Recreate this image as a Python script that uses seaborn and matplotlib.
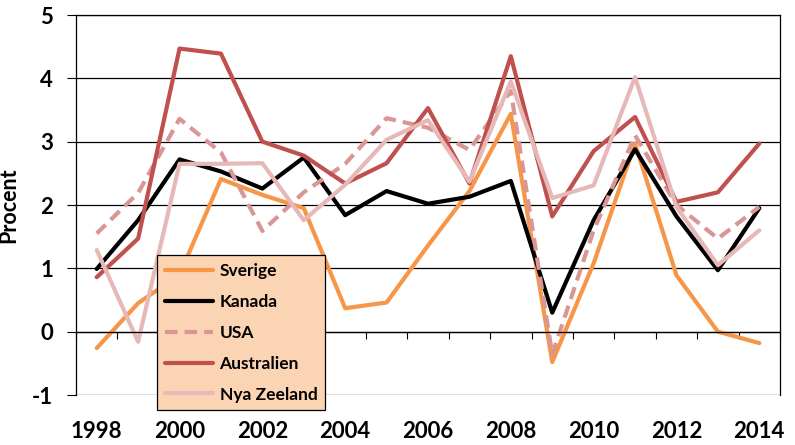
import matplotlib
matplotlib.use("Agg")
import matplotlib.pyplot as plt
import seaborn as sns
import numpy as np
import pandas as pd
from matplotlib.ticker import FixedLocator, NullFormatter

years = list(range(1998, 2015))
sverige = [-0.26, 0.45, 0.90, 2.41, 2.16, 1.95, 0.37, 0.46, 1.36, 2.22, 3.44, -0.48, 1.08, 2.97, 0.89, 0.00, -0.18]
kanada = [0.99, 1.76, 2.72, 2.53, 2.26, 2.75, 1.84, 2.22, 2.02, 2.13, 2.38, 0.30, 1.76, 2.88, 1.82, 0.97, 1.95]
usa = [1.55, 2.19, 3.36, 2.83, 1.59, 2.20, 2.65, 3.37, 3.22, 2.87, 3.80, -0.36, 1.60, 3.10, 2.00, 1.47, 1.97]
australien = [0.86, 1.47, 4.47, 4.39, 3.00, 2.78, 2.34, 2.66, 3.53, 2.34, 4.35, 1.82, 2.85, 3.39, 2.05, 2.20, 2.97]
nya_zeeland = [1.29, -0.16, 2.65, 2.65, 2.66, 1.76, 2.32, 3.03, 3.34, 2.37, 3.95, 2.11, 2.31, 4.02, 1.97, 1.05, 1.60]

series_names = ["Sverige", "Kanada", "USA", "Australien", "Nya Zeeland"]
series_values = [sverige, kanada, usa, australien, nya_zeeland]
colors = ["#F79646", "#000000", "#D99694", "#C0504D", "#E6B9B8"]
y_ticks = [-1, 0, 1, 2, 3, 4, 5]
x_label_years = list(range(1998, 2015, 2))

sns.set_theme(style="white")
plt.rcParams['font.family'] = ['Lato', 'DejaVu Sans']
plt.rcParams['font.weight'] = 'bold'

fig = plt.figure(figsize=(7.95, 4.45), dpi=100)
ax = fig.add_axes([76/795, 1-395/445, (780-76)/795, (395-15)/445])

lw = 3.0
for name, vals, col in zip(series_names, series_values, colors):
    df = pd.DataFrame({"year": years, "value": vals})
    sns.lineplot(data=df, x="year", y="value", ax=ax, color=col,
                 linewidth=lw, label=name, legend=False)
    if name == "USA":
        ax.get_lines()[-1].set_dashes((3.0, 1.7))

ax.set_xlim(years[0] - 0.5, years[-1] + 0.5)
ax.set_ylim(-1, 5)

# y axis
ax.set_yticks(y_ticks)
ax.set_yticklabels([str(t) for t in y_ticks], fontsize=16, fontweight='bold')
ax.tick_params(axis='y', which='major', direction='out', length=6.5, width=0.8,
               color='black', pad=10, left=True, labelcolor='black')
ax.yaxis.grid(True, color='black', linewidth=0.9)
ax.xaxis.grid(False)
ax.set_ylabel("Procent", fontsize=15.5, fontweight='bold', color='black', labelpad=9)
ax.set_xlabel("")

# category axis crossing at 0 with tick marks between categories
ax.spines['bottom'].set_position(('data', 0))
ax.spines['bottom'].set_color('black')
ax.spines['bottom'].set_linewidth(0.9)
boundaries = [y - 0.5 for y in years] + [years[-1] + 0.5]
ax.xaxis.set_major_locator(FixedLocator(boundaries))
ax.xaxis.set_major_formatter(NullFormatter())
ax.tick_params(axis='x', which='major', direction='out', length=5, width=0.8,
               color='black', bottom=True)

for s in ['left', 'right', 'top']:
    ax.spines[s].set_visible(True)
    ax.spines[s].set_color('black')
    ax.spines[s].set_linewidth(0.9)

# labels at bottom of plot area
sec = ax.secondary_xaxis('bottom')
sec.set_xticks(x_label_years)
sec.set_xticklabels([str(y) for y in x_label_years], fontsize=16, fontweight='bold')
sec.tick_params(axis='x', length=0, pad=19, labelcolor='black')
sec.spines['bottom'].set_visible(False)

leg = ax.legend(loc='upper left', bbox_to_anchor=(157/795, 1-255/445),
                bbox_transform=fig.transFigure, borderaxespad=0,
                frameon=True, fancybox=False, framealpha=1,
                facecolor='#FBD4B4', edgecolor='black',
                prop={'family': 'Lato', 'weight': 'bold', 'size': 12.5},
                handlelength=2.8, handletextpad=0.35, labelspacing=0.86,
                borderpad=0.45)
leg.get_frame().set_linewidth(0.9)
for t in leg.get_texts():
    t.set_color('black')

fig.savefig("out.png", dpi=100)
